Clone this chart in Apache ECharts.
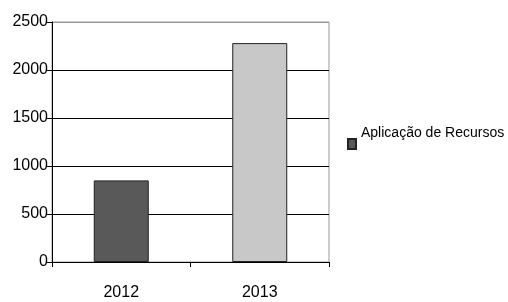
<!DOCTYPE html>
<html>
<head>
<meta charset="utf-8">
<script src="https://cdn.jsdelivr.net/npm/echarts@6/dist/echarts.min.js"></script>
<style>
  html, body { margin: 0; padding: 0; background: #fff; }
  #main { width: 508px; height: 302px; }
</style>
</head>
<body>
<div id="main"></div>
<script>
var chart = echarts.init(document.getElementById("main"));

var categories = ['2012', '2013'];
var valores = [850, 2280];
var cores = ['#595959', '#c8c8c8'];
var serieNome = 'Aplicação de Recursos';

var fonte = '"Liberation Sans", Arial, sans-serif';

var option = {
  animation: false,
  textStyle: { fontFamily: fonte },
  grid: {
    left: 52, right: 179, top: 22, bottom: 40,
    show: true, borderColor: '#999', borderWidth: 1
  },
  legend: {
    data: [serieNome],
    left: 342, top: 121,
    icon: 'rect', itemWidth: 8, itemHeight: 10, itemGap: 4,
    formatter: '{t|{name}}',
    textStyle: {
      fontFamily: fonte, fontSize: 14, color: '#000',
      rich: { t: { fontFamily: fonte, fontSize: 14, color: '#000', padding: [0, 0, 22, 0] } }
    }
  },
  xAxis: {
    type: 'category',
    data: categories,
    axisLine: { lineStyle: { color: '#000', width: 1 } },
    axisTick: { show: true, length: 5, lineStyle: { color: '#000' } },
    axisLabel: { color: '#000', fontSize: 16, margin: 23, fontFamily: fonte }
  },
  yAxis: {
    type: 'value',
    min: 0, max: 2500, interval: 500,
    axisLine: { show: true, lineStyle: { color: '#000', width: 1 } },
    axisTick: { show: true, length: 5, lineStyle: { color: '#000' } },
    axisLabel: {
      color: '#000', fontSize: 16, margin: 4, fontFamily: fonte,
      formatter: function (v) { return String(v); }
    },
    splitLine: { lineStyle: { color: ['#000', '#000', '#000', '#000', '#000', '#999'], width: 1 } }
  },
  series: [
    {
      name: serieNome,
      type: 'bar',
      barWidth: 55,
      itemStyle: { color: cores[0], borderColor: '#222', borderWidth: 1 },
      data: valores.map(function (v, i) {
        return { value: v, itemStyle: { color: cores[i] } };
      })
    }
  ]
};

chart.setOption(option);
</script>
</body>
</html>
